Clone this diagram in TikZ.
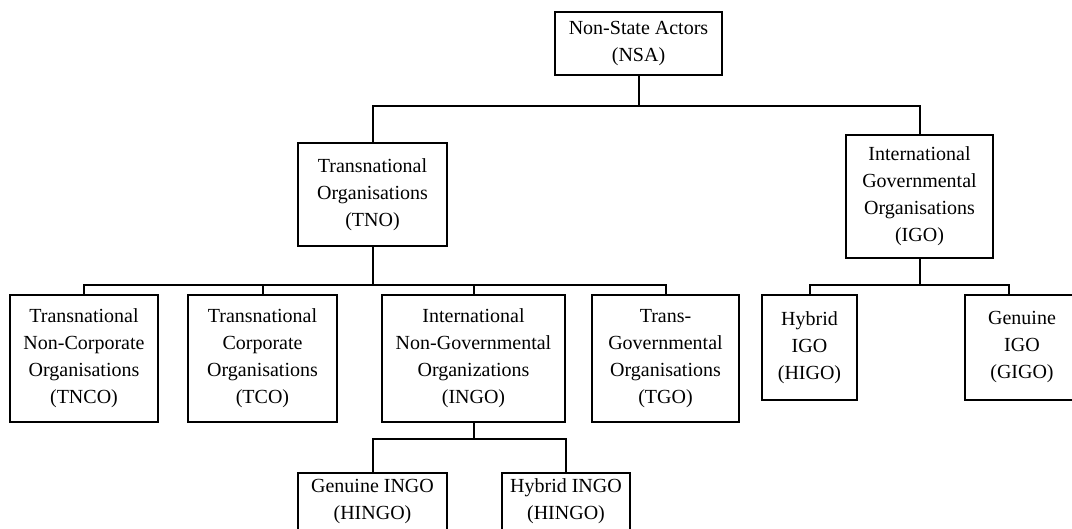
\documentclass[tikz,border=0pt]{standalone}
\usepackage{fontspec}
\setmainfont{Liberation Serif}
\begin{document}
\begin{tikzpicture}[x=0.5pt,y=-0.5pt,
  box/.style={draw, line width=1pt, align=center, inner sep=0pt,
    font=\fontsize{10}{13.5}\selectfont},
  conn/.style={line width=1pt}]
\path[use as bounding box, clip] (0,0) rectangle (1072,529);
% level 0
\node[box, minimum width=83.5pt, minimum height=31.5pt] (nsa) at (638.5,43.5) {Non-State Actors\\(NSA)};
% level 1
\node[box, minimum width=74.5pt, minimum height=51.5pt] (tno) at (372.5,194.5) {Transnational\\Organisations\\(TNO)};
\node[box, minimum width=73.5pt, minimum height=61.5pt] (igo) at (919.5,196.5) {International\\Governmental\\Organisations\\(IGO)};
% level 2
\node[box, minimum width=74pt, minimum height=63.5pt] (tnco) at (84,358.5) {Transnational\\Non-Corporate\\Organisations\\(TNCO)};
\node[box, minimum width=74.5pt, minimum height=63.5pt] (tco) at (262.5,358.5) {Transnational\\Corporate\\Organisations\\(TCO)};
\node[box, minimum width=91.5pt, minimum height=63.5pt] (ingo) at (473.5,358.5) {International\\Non-Governmental\\Organizations\\(INGO)};
\node[box, minimum width=73.5pt, minimum height=63.5pt] (tgo) at (665.5,358.5) {Trans-\\Governmental\\Organisations\\(TGO)};
\node[box, minimum width=47.5pt, minimum height=52.5pt] (higo) at (809.5,347.5) {Hybrid\\IGO\\(HIGO)};
\node[box, minimum width=57pt, minimum height=52.5pt] (gigo) at (1022,347.5) {Genuine\\IGO\\(GIGO)};
% level 3
\node[box, minimum width=74.5pt, anchor=north, inner ysep=3pt, text depth=40pt] (gingo) at (372.5,472) {Genuine INGO\\(HINGO)};
\node[box, minimum width=64pt, anchor=north, inner ysep=3pt, text depth=40pt] (hingo) at (566,472) {Hybrid INGO\\(HINGO)};
% bars
\coordinate (b1) at (0,106);
\coordinate (b2) at (0,285);
\coordinate (b3) at (0,439);
\coordinate (gx) at (1009,0);
\coordinate (gtick) at (gigo.north -| gx);
\draw[conn] (nsa.south) -- (nsa.south |- b1);
\draw[conn] (tno.north) |- (igo.north |- b1) -- (igo.north);
\draw[conn] (tno.south) -- (tno.south |- b2);
\draw[conn] (tnco.north) |- (tgo.north |- b2) -- (tgo.north);
\draw[conn] (tco.north) -- (tco.north |- b2);
\draw[conn] (ingo.north) -- (ingo.north |- b2);
\draw[conn] (igo.south) -- (igo.south |- b2);
\draw[conn] (higo.north) |- (gtick |- b2) -- (gtick);
\draw[conn] (ingo.south) -- (ingo.south |- b3);
\draw[conn] (gingo.north) |- (hingo.north |- b3) -- (hingo.north);
\end{tikzpicture}
\end{document}
